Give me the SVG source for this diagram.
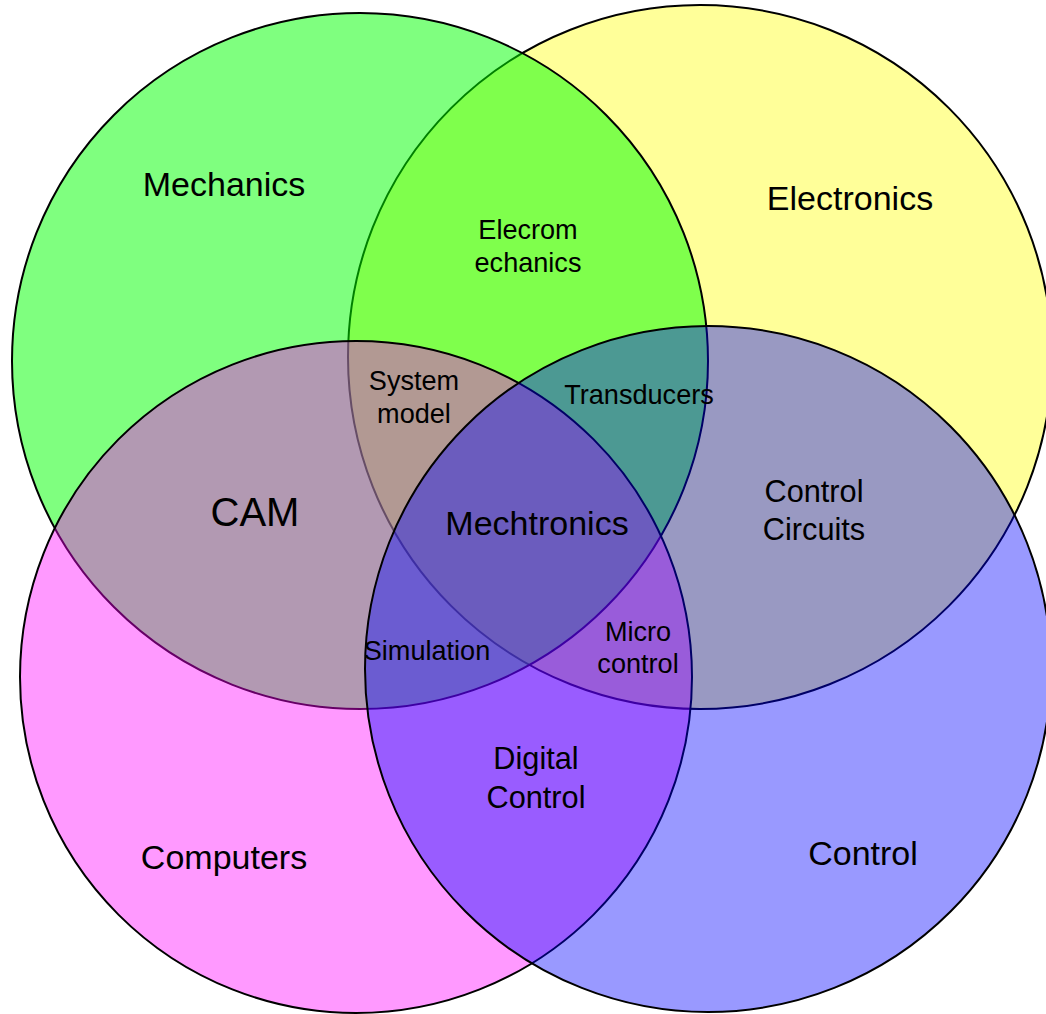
<svg xmlns="http://www.w3.org/2000/svg" width="1046" height="1014" viewBox="0 0 1046 1014">
<style>
.c{stroke:#000;stroke-width:2}
text{font-family:"Liberation Sans",Arial,sans-serif;fill:#000;text-anchor:middle}
.big{font-size:34px}
.mid{font-size:30.7px}
.sm{font-size:27.1px}
</style>
<rect width="1046" height="1014" fill="#fff"/>
<g id="electronics"><circle class="c" cx="700" cy="357" r="352" fill="#ffff00" fill-opacity="0.4"/></g>
<g id="mechanics"><circle class="c" cx="360" cy="361" r="348" fill="#00ff00" fill-opacity="0.5"/></g>
<g id="computers"><circle class="c" cx="356" cy="677" r="336" fill="#ff00ff" fill-opacity="0.4"/></g>
<g id="control"><circle class="c" cx="708" cy="669" r="343" fill="#0000ff" fill-opacity="0.4"/></g>
<g id="labels">
<text class="big" x="224" y="196">Mechanics</text>
<text class="big" x="850" y="210">Electronics</text>
<text class="sm" x="528" y="239">Elecrom</text>
<text class="sm" x="528" y="272">echanics</text>
<text class="sm" x="414" y="390">System</text>
<text class="sm" x="414" y="423">model</text>
<text class="sm" x="639" y="404">Transducers</text>
<text style="font-size:40px" x="255" y="526">CAM</text>
<text class="big" x="537" y="535">Mechtronics</text>
<text class="mid" x="814" y="502">Control</text>
<text class="mid" x="814" y="540">Circuits</text>
<text class="sm" x="427" y="660">Simulation</text>
<text class="sm" x="638" y="641">Micro</text>
<text class="sm" x="638" y="673">control</text>
<text class="mid" x="536" y="769">Digital</text>
<text class="mid" x="536" y="808">Control</text>
<text class="big" x="224" y="869">Computers</text>
<text class="big" x="863" y="865">Control</text>
</g>
</svg>
